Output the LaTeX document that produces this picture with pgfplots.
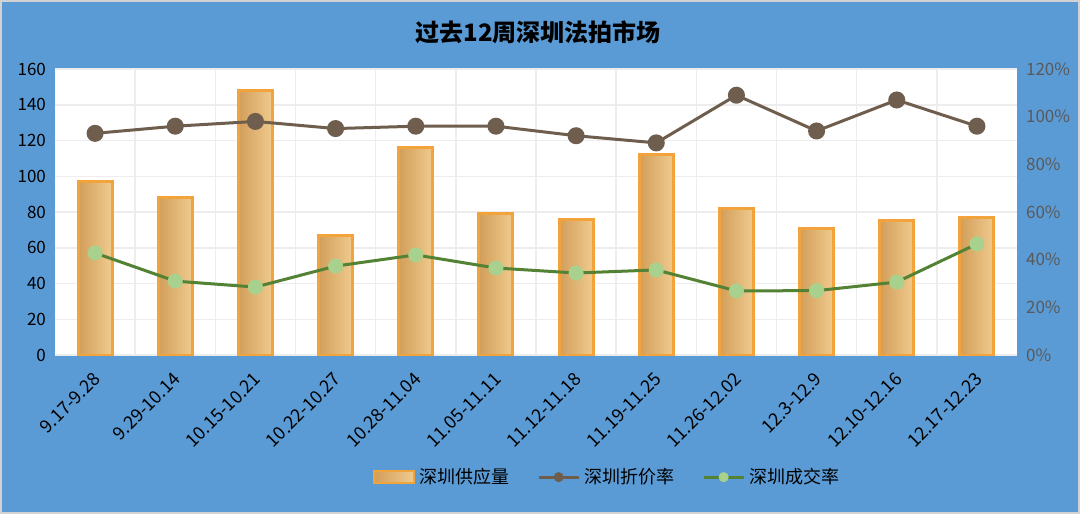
\documentclass[border=0pt]{standalone}
\usepackage{pgfplots}
\pgfplotsset{compat=1.18}
\usepackage{fontspec}
\setmainfont{Noto Sans CJK SC}
\definecolor{bgblue}{HTML}{5B9BD5}
\definecolor{barL}{HTML}{D29E5A}
\definecolor{barR}{HTML}{EFCB8E}
\definecolor{barEdge}{HTML}{F2A33B}
\definecolor{brownL}{HTML}{6F5E4E}
\definecolor{greenL}{HTML}{548235}
\definecolor{greenM}{HTML}{A9D18E}
\definecolor{gridc}{HTML}{EDEDED}
\definecolor{rtick}{HTML}{595959}
\pgfplotsset{
  mybar/.style={ybar, bar width=17pt, draw=barEdge, line width=1.5pt, left color=barL, right color=barR, forget plot},
}
\begin{document}
\begin{tikzpicture}[x=1pt,y=1pt]
\fill[bgblue] (0,0) rectangle (540,257);
\draw[gray!35, line width=1pt] (0.5,0.5) rectangle (539.5,256.5);
\node[font=\bfseries\fontsize{12}{14}\selectfont] at (269,241) {过去12周深圳法拍市场};
\begin{axis}[
  at={(27.5pt,79.5pt)}, anchor=south west, scale only axis,
  width=481pt, height=143pt,
  xmin=-0.5, xmax=11.5, ymin=0, ymax=160,
  axis background/.style={fill=white},
  axis line style={draw=none},
  xtick={0,...,11},
  xticklabels={9.17-9.28,9.29-10.14,10.15-10.21,10.22-10.27,10.28-11.04,11.05-11.11,11.12-11.18,11.19-11.25,11.26-12.02,12.3-12.9,12.10-12.16,12.17-12.23},
  minor xtick={0.5,1.5,...,10.5},
  xminorgrids, ymajorgrids,
  grid style={gridc, line width=0.75pt},
  minor grid style={gridc, line width=0.75pt},
  major tick length=0, minor tick length=0,
  ytick={0,20,...,160},
  tick label style={font=\fontsize{8.5}{10}\selectfont},
  yticklabel style={xshift=-1pt},
  xticklabel style={xshift=3.4pt, yshift=-8pt, rotate=45, anchor=east, font=\fontsize{9}{10}\selectfont},
  /pgf/number format/assume math mode=true,
  axis y line*=left, axis x line*=bottom,
]
\addplot[mybar] coordinates {(0,97)};
\addplot[mybar] coordinates {(1,88)};
\addplot[mybar] coordinates {(2,148)};
\addplot[mybar] coordinates {(3,67)};
\addplot[mybar] coordinates {(4,116)};
\addplot[mybar] coordinates {(5,79)};
\addplot[mybar] coordinates {(6,76)};
\addplot[mybar] coordinates {(7,112)};
\addplot[mybar] coordinates {(8,82)};
\addplot[mybar] coordinates {(9,71)};
\addplot[mybar] coordinates {(10,75)};
\addplot[mybar] coordinates {(11,77)};
\end{axis}
\begin{axis}[
  at={(27.5pt,79.5pt)}, anchor=south west, scale only axis,
  width=481pt, height=143pt,
  xmin=-0.5, xmax=11.5, ymin=0, ymax=120,
  axis y line*=right, axis x line=none,
  axis line style={draw=none},
  major tick length=0,
  ytick={0,20,...,120},
  yticklabel={\pgfmathprintnumber{\tick}\%},
  yticklabel style={rtick, font=\fontsize{8.5}{10}\selectfont, xshift=1pt},
  /pgf/number format/assume math mode=true,
  clip=false,
  legend style={at={(0.575,-0.427)}, anchor=center, draw=none, fill=none,
    legend columns=3, font=\fontsize{9}{11}\selectfont,
    /tikz/every even column/.append style={column sep=12pt}},
  legend cell align=left,
]
\addlegendimage{legend image code/.code={\draw[draw=barEdge, line width=1pt, left color=barL, right color=barR] (0pt,-3pt) rectangle (20pt,3pt);}}
\addlegendentry{深圳供应量}
\addlegendimage{legend image code/.code={\draw[brownL, line width=1.5pt] (0pt,0pt) -- (20pt,0pt); \fill[brownL] (10pt,0pt) circle (2.3pt);}}
\addlegendentry{深圳折价率}
\addlegendimage{legend image code/.code={\draw[greenL, line width=1.5pt] (0pt,0pt) -- (20pt,0pt); \fill[greenM] (10pt,0pt) circle (2.3pt);}}
\addlegendentry{深圳成交率}
\addplot[brownL, line width=1.5pt, mark=*, mark size=3.5pt, mark options={fill=brownL, draw=brownL}, forget plot]
coordinates {(0,93) (1,96) (2,98) (3,95) (4,96) (5,96) (6,92) (7,89) (8,109) (9,94) (10,107) (11,96)};
\addplot[greenL, line width=1.5pt, mark=*, mark size=3pt, mark options={fill=greenM, draw=greenM}, forget plot]
coordinates {(0,42.8) (1,31) (2,28.5) (3,37.3) (4,42) (5,36.5) (6,34.4) (7,35.7) (8,26.9) (9,27) (10,30.6) (11,46.6)};
\end{axis}
\end{tikzpicture}
\end{document}
